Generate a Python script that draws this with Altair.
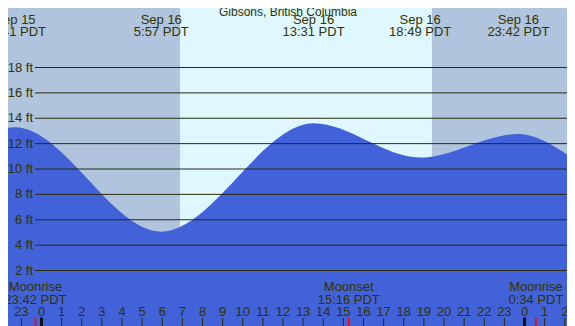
import altair as alt
import pandas as pd

# ---------------- data ----------------
# hours relative to Sep 16 00:00 PDT, tide height in feet
tide_hours = [-2.06, -1.317, 5.95, 13.517, 18.817, 23.70, 26.51]
tide_feet = [13.15, 13.29, 5.06, 13.60, 10.90, 12.76, 10.70]

extreme_hours = [-1.317, 5.95, 13.517, 18.817, 23.70]
extreme_dates = ["Sep 15", "Sep 16", "Sep 16", "Sep 16", "Sep 16"]
extreme_times = ["22:41 PDT", "5:57 PDT", "13:31 PDT", "18:49 PDT", "23:42 PDT"]

moon_hours = [-0.30, 15.267, 24.567]
moon_events = ["Moonrise", "Moonset", "Moonrise"]
moon_times = ["23:42 PDT", "15:16 PDT", "0:34 PDT"]

day_start = [6.88]
day_end = [19.40]

grid_feet = [2, 4, 6, 8, 10, 12, 14, 16, 18]
grid_labels = ["2 ft", "4 ft", "6 ft", "8 ft", "10 ft", "12 ft", "14 ft", "16 ft", "18 ft"]

hour_ticks = list(range(-1, 27))
hour_labels = [str(h % 24) for h in hour_ticks]
midnight_hours = [0, 24]

title_text = "Gibsons, British Columbia"

# ---------------- layout / style ----------------
W, H = 559, 318
PX_PER_HR = 20.125
X0 = 33.5
PX_PER_FT = 12.6875
Y0 = 287.875
hmin, hmax = -X0 / PX_PER_HR, (W - X0) / PX_PER_HR
ymax, ymin = Y0 / PX_PER_FT, (Y0 - H) / PX_PER_FT

NIGHT = "#B0C4DE"
DAY = "#DFF8FF"
WATER = "#4162D8"
INK = "#333300"
LINE = "#2A2A10"
FONT = "Liberation Sans"
FS = 13

xs = alt.Scale(domain=[hmin, hmax], nice=False, zero=False)
ys = alt.Scale(domain=[ymin, ymax], nice=False, zero=False)


def X(f):
    return alt.X(f, type="quantitative", scale=xs, axis=None)


def Y(f):
    return alt.Y(f, type="quantitative", scale=ys, axis=None)


tide_df = pd.DataFrame({"h": tide_hours, "ft": tide_feet})
ext_df = pd.DataFrame({"h": extreme_hours, "d": extreme_dates, "t": extreme_times})
moon_df = pd.DataFrame({"h": moon_hours, "e": moon_events, "t": moon_times})
day_df = pd.DataFrame({"s": day_start, "e": day_end})
grid_df = pd.DataFrame({"ft": grid_feet, "lab": grid_labels})
hour_df = pd.DataFrame({"h": hour_ticks, "lab": hour_labels})
mid_df = pd.DataFrame({"h": midnight_hours})
title_df = pd.DataFrame({"t": [title_text]})


def txt(df, **kw):
    return alt.Chart(df).mark_text(
        align=kw.pop("align", "center"), baseline="middle", font=FONT,
        fontSize=kw.pop("fontSize", FS), color=INK
    )


day = alt.Chart(day_df).mark_rect(color=DAY, clip=True).encode(
    x=X("s"), x2="e", y=alt.value(0), y2=alt.value(H)
)

water = alt.Chart(tide_df).mark_area(
    interpolate="monotone", color=WATER, opacity=1, clip=True
).encode(x=X("h"), y=Y("ft"), y2=alt.datum(ymin))

grid = alt.Chart(grid_df).mark_rule(color=LINE, strokeWidth=1).encode(
    y=Y("ft"), x=alt.value(27), x2=alt.value(W)
)

grid_text = txt(grid_df, align="right").encode(
    y=Y("ft"), x=alt.value(25), text="lab:N"
)

ext_date = txt(ext_df).encode(x=X("h"), y=alt.value(11.5), text="d:N")
ext_time = txt(ext_df).encode(x=X("h"), y=alt.value(23.5), text="t:N")

title = txt(title_df, fontSize=12).encode(
    x=alt.value(280), y=alt.value(3.8), text="t:N"
)

moon_event = txt(moon_df).encode(x=X("h"), y=alt.value(279), text="e:N")
moon_time = txt(moon_df).encode(x=X("h"), y=alt.value(291.5), text="t:N")

hour_text = txt(hour_df).encode(x=X("h"), y=alt.value(304), text="lab:N")

hour_tick = alt.Chart(hour_df).mark_rule(color=LINE, strokeWidth=1).encode(
    x=X("h"), y=alt.value(310), y2=alt.value(H)
)

mid_tick = alt.Chart(mid_df).mark_rule(color="#111111", strokeWidth=3).encode(
    x=X("h"), y=alt.value(309.5), y2=alt.value(H)
)

moon_tick = alt.Chart(moon_df).mark_rule(color="#FF0000", strokeWidth=1.7).encode(
    x=X("h"), y=alt.value(310), y2=alt.value(H)
)

chart = (
    alt.layer(
        day, water, grid, grid_text, title, ext_date, ext_time,
        moon_event, moon_time, hour_text, hour_tick, mid_tick, moon_tick
    )
    .properties(
        width=W, height=H, padding=0,
        autosize=alt.AutoSizeParams(type="none"),
    )
    .configure(background=NIGHT)
    .configure_view(stroke=None)
)

chart.save("out.html", embed_options={"renderer": "svg", "actions": False})
